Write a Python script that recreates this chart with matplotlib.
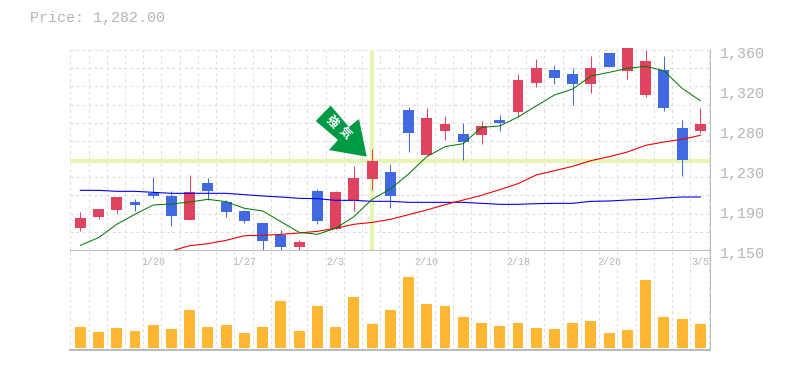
import numpy as np
import matplotlib.pyplot as plt
from matplotlib.patches import Polygon
from matplotlib.transforms import Affine2D

plt.rcParams['font.family'] = ['Liberation Mono', 'Noto Sans CJK JP', 'DejaVu Sans']

opens = [1173.1, 1184.7, 1192.0, 1200.4, 1209.85, 1206.7, 1181.5, 1220.35, 1200.4, 1191.0, 1178.35, 1165.75,
         1153.15, 1212.0, 1172.0, 1202.5, 1224.55, 1231.9, 1297.0, 1249.75, 1275.0, 1271.8, 1270.75, 1286.5,
         1294.9, 1325.35, 1339.0, 1334.8, 1324.3, 1356.5, 1338.0, 1312.75, 1339.0, 1278.1, 1275.0]
highs = [1189.9, 1193.0, 1205.65, 1203.55, 1226.65, 1212.0, 1228.75, 1225.6, 1202.5, 1192.0, 1178.35, 1171.0,
         1160.5, 1214.0, 1212.0, 1238.2, 1256.0, 1240.3, 1300.0, 1299.1, 1290.7, 1283.35, 1285.45, 1291.75,
         1334.8, 1350.55, 1344.25, 1341.1, 1353.7, 1356.5, 1362.1, 1360.0, 1353.7, 1286.5, 1299.1]
lows = [1170.0, 1182.6, 1187.8, 1191.0, 1204.6, 1175.2, 1181.5, 1202.5, 1184.65, 1178.35, 1150.0, 1150.0,
        1150.0, 1177.3, 1172.0, 1191.0, 1213.0, 1194.1, 1252.9, 1249.75, 1265.5, 1244.5, 1261.3, 1275.0,
        1289.65, 1321.15, 1324.3, 1302.25, 1314.85, 1342.15, 1329.55, 1310.65, 1296.0, 1227.7, 1272.85]
closes = [1183.6, 1193.0, 1205.65, 1197.25, 1206.7, 1185.7, 1211.0, 1212.0, 1189.9, 1180.5, 1159.45, 1153.15,
          1158.4, 1180.45, 1211.0, 1225.6, 1243.45, 1206.7, 1272.85, 1288.6, 1282.3, 1263.4, 1280.2, 1283.35,
          1328.5, 1341.1, 1330.6, 1324.3, 1341.1, 1342.15, 1362.1, 1348.45, 1299.1, 1244.5, 1282.3]
ma_short = [1154.9, 1163.0, 1177.0, 1187.5, 1197.25, 1198.3, 1200.4, 1203.2, 1200.75, 1193.75, 1191.0, 1179.75,
            1168.55, 1166.45, 1172.75, 1185.0, 1203.2, 1214.0, 1229.8, 1248.0, 1258.5, 1261.65, 1278.8, 1280.2,
            1289.65, 1301.2, 1312.75, 1319.0, 1332.7, 1336.55, 1340.75, 1342.85, 1338.3, 1319.75, 1306.8]
ma_mid = [np.nan] * 5 + [1149.0, 1154.55, 1156.65, 1160.15, 1165.0, 1165.4, 1166.45, 1167.85, 1169.6, 1172.75,
                         1177.0, 1179.0, 1182.2, 1187.1, 1192.0, 1197.6, 1202.5, 1207.4, 1213.35, 1219.65,
                         1228.75, 1233.3, 1237.85, 1243.8, 1248.0, 1252.9, 1259.9, 1263.4, 1266.2, 1270.4]
ma_long = [1212.65, 1212.65, 1211.6, 1211.6, 1210.55, 1209.5, 1209.5, 1209.5, 1209.5, 1208.1, 1206.7, 1205.65,
           1204.25, 1203.9, 1202.15, 1202.15, 1201.1, 1201.1, 1200.05, 1200.05, 1200.05, 1200.05, 1199.0, 1197.95,
           1197.95, 1198.65, 1199.0, 1199.0, 1201.1, 1201.45, 1202.5, 1203.2, 1204.6, 1205.65, 1205.65]
volumes = [21, 16, 20, 17, 23, 19, 38, 21, 23, 15, 21, 47, 17, 42, 21, 51, 24, 38,
           71, 44, 42, 31, 25, 22, 25, 20, 19, 25, 27, 15, 18, 68, 31, 29, 24]
date_pos = [4, 9, 14, 19, 24, 29, 34]
date_labels = ['1/20', '1/27', '2/3', '2/10', '2/18', '2/26', '3/5']
price_ticks = [1150, 1192, 1234, 1276, 1318, 1360]
price_labels = ['1,150', '1,190', '1,230', '1,280', '1,320', '1,360']
signal_pos = 16
signal_price = 1243

RED = '#E0425F'
BLUE = '#4169E1'
GREEN = '#009944'
ORANGE = '#FFB733'
HILITE = '#E6F6B0'
GRID = '#DDDDDD'
AXIS = '#BBBBBB'
TEXT = '#B4B4B4'
PX = 0.72  # one pixel, in points

W, H = 785, 370
fig = plt.figure(figsize=(W / 100, H / 100), dpi=100)
ax = fig.add_axes([70 / W, 1 - 250 / H, 640 / W, 200 / H])
vax = fig.add_axes([70 / W, 1 - 350 / H, 640 / W, 100 / H])

xlim = (-0.565, 34.53)
x = np.arange(len(closes))

for a in (ax, vax):
    a.set_xlim(*xlim)
    a.patch.set_alpha(0)
    a.tick_params(length=0, labelbottom=False, labelleft=False)
    for s in a.spines.values():
        s.set_visible(False)
    for side in ('right', 'bottom'):
        a.spines[side].set_visible(True)
        a.spines[side].set_color(AXIS)
        a.spines[side].set_linewidth(PX)
    a.vlines(np.arange(36) - 0.55, 0, 1, transform=a.get_xaxis_transform(), color=GRID, lw=PX,
             linestyles=(0, (3, 3)), zorder=0)

ax.set_ylim(1150, 1360)
vax.set_ylim(-2, 98)
vax.spines['bottom'].set_linewidth(2 * PX)

ax.hlines(1150 + 210 / 11 * np.arange(1, 12), 0, 1, transform=ax.get_yaxis_transform(), color=GRID, lw=PX,
          linestyles=(0, (3, 3)), zorder=0)

ax.axhline(signal_price, color=HILITE, lw=3, zorder=1)
ax.axvline(signal_pos, color=HILITE, lw=3, zorder=1)

for i in x:
    up = closes[i] >= opens[i]
    c = RED if up else BLUE
    ax.vlines(i, lows[i], highs[i], color=c, lw=PX, zorder=2, clip_on=False)
    ax.bar(i, abs(closes[i] - opens[i]), bottom=min(opens[i], closes[i]), width=0.6, color=c, zorder=3,
           clip_on=False)

ax.plot(x, ma_long, color='#0000EE', lw=PX * 1.1, zorder=4)
ax.plot(x, ma_mid, color='#EE0000', lw=PX * 1.1, zorder=4)
ax.plot(x, ma_short, color='#007700', lw=PX, zorder=5)

vax.bar(x, volumes, width=0.6, color=ORANGE, zorder=3)

for v, s in zip(price_ticks, price_labels):
    ax.annotate(s, (1, v), xycoords=ax.get_yaxis_transform(), xytext=(10, -4), textcoords='offset pixels',
                ha='left', va='center', color=TEXT, fontsize=10.8)
for p, s in zip(date_pos, date_labels):
    ax.annotate(s, (p, 0), xycoords=ax.get_xaxis_transform(), xytext=(0, -12), textcoords='offset pixels',
                ha='center', va='center', color=TEXT, fontsize=7.2, annotation_clip=False)

fig.text(30 / W, 1 - 18 / H, 'Price: 1,282.00', color=TEXT, fontsize=10.8, ha='left', va='center')

# arrow in pixel coordinates, y pointing down
px = Affine2D().scale(1, -1).translate(0, H)
fig.add_artist(Polygon([(315.7, 121), (330.7, 105.7), (349, 127), (359, 119), (366.7, 156.7), (329, 150), (338, 140)],
                       closed=True, facecolor=GREEN, edgecolor='none', transform=px, zorder=6))
for (tx, ty), s in zip([(331.7, 121.7), (345, 132.7)], ['強', '気']):
    fig.text(tx / W, 1 - ty / H, s, color='white', fontsize=8.5, rotation=-45, ha='center', va='center',
             rotation_mode='anchor', fontweight='bold', family=['Noto Sans CJK JP', 'DejaVu Sans'], zorder=7)

fig.savefig('out.png', dpi=100)
